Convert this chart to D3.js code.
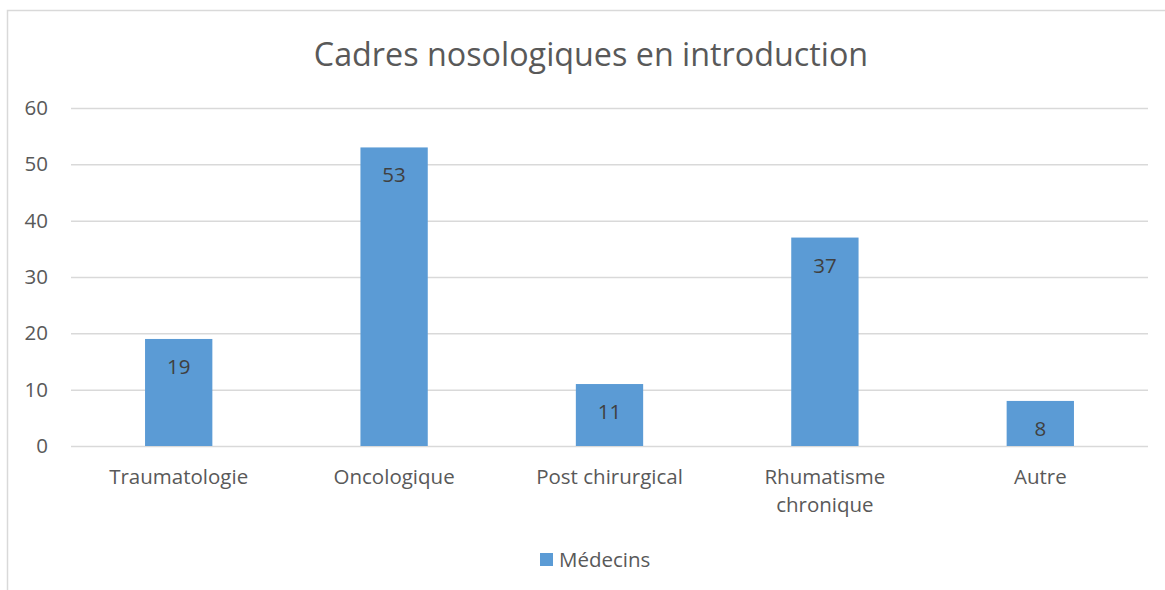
<!DOCTYPE html>
<html><head><meta charset="utf-8">
<script src="https://cdn.jsdelivr.net/npm/d3@7"></script>
<style>body{margin:0;background:#fff}svg{display:block}</style>
</head><body>
<script>
const categories = ["Traumatologie","Oncologique","Post chirurgical","Rhumatisme chronique","Autre"];
const values = [19,53,11,37,8];
const yTicks = [0,10,20,30,40,50,60];
const seriesName = "Médecins";
const title = "Cadres nosologiques en introduction";

const W=1165,H=590;
const font="'Open Sans', sans-serif";
const fs="20.5px";
const svg=d3.select("body").append("svg").attr("width",W).attr("height",H);
svg.append("rect").attr("x",7.5).attr("y",10.5).attr("width",W+20).attr("height",H+20)
  .attr("fill","#fff").attr("stroke","#d9d9d9").attr("stroke-width",1.5);

const x=d3.scaleBand().domain(categories).range([71,1148]).paddingInner(0.6875).paddingOuter(0.34375);
const y=d3.scaleLinear().domain([0,60]).range([446,108]);

const g=svg.append("g");
const yAxis=g.append("g").attr("transform","translate(71,0)")
  .call(d3.axisLeft(y).tickValues(yTicks).tickSize(-(1148-71)).tickPadding(23));
yAxis.select(".domain").remove();
yAxis.selectAll("line").attr("stroke","#d9d9d9").attr("stroke-width",1.5);
yAxis.selectAll("text").attr("fill","#595959").style("font-family",font).style("font-size",fs);

g.selectAll("rect.bar").data(values).enter().append("rect").attr("class","bar")
  .attr("x",(d,i)=>x(categories[i])).attr("width",x.bandwidth())
  .attr("y",d=>y(d)).attr("height",d=>y(0)-y(d)).attr("fill","#5b9bd5");

g.selectAll("text.lbl").data(values).enter().append("text").attr("class","lbl")
  .attr("x",(d,i)=>x(categories[i])+x.bandwidth()/2).attr("y",d=>y(d)+35)
  .attr("text-anchor","middle").attr("fill","#404040").style("font-family",font).style("font-size",fs)
  .text(d=>d);

const xl=g.selectAll("text.cat").data(categories).enter().append("text").attr("class","cat")
  .attr("x",d=>x(d)+x.bandwidth()/2).attr("y",484)
  .attr("text-anchor","middle").attr("fill","#595959").style("font-family",font).style("font-size",fs);
xl.each(function(d){
  const words = d==="Rhumatisme chronique" ? ["Rhumatisme","chronique"] : [d];
  const t=d3.select(this);
  words.forEach((w,k)=>t.append("tspan").attr("x",x(d)+x.bandwidth()/2).attr("dy",k?28:0).text(w));
});

svg.append("text").attr("x",591).attr("y",66).attr("text-anchor","middle")
  .attr("fill","#595959").style("font-family",font).style("font-size","32.3px").text(title);

svg.append("rect").attr("x",540).attr("y",553).attr("width",13).attr("height",13).attr("fill","#5b9bd5");
svg.append("text").attr("x",559).attr("y",567).attr("fill","#595959").style("font-family",font).style("font-size",fs).text(seriesName);
</script>
</body></html>
